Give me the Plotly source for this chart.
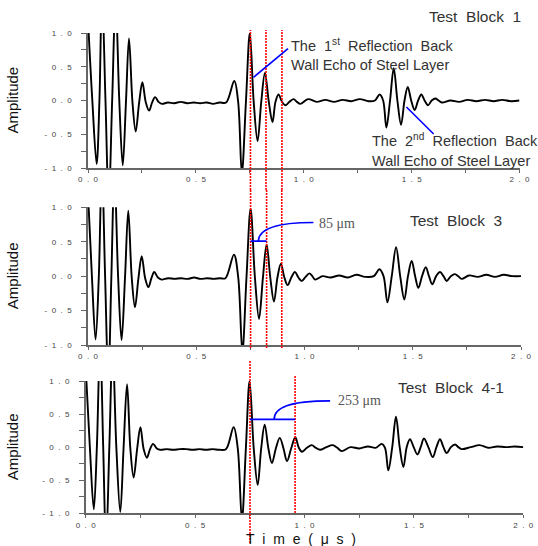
import plotly.graph_objects as go

# ---------------- data ----------------
# Test Block 1 (time in microseconds, normalised amplitude): extrema and baseline crossings
tb1_t = [0.000, 0.020, 0.040, 0.053, 0.065, 0.081, 0.096, 0.112, 0.128, 0.145, 0.161, 0.176,
         0.190, 0.206, 0.221, 0.237, 0.252, 0.268, 0.283, 0.297, 0.311, 0.327, 0.342,
         0.37, 0.40, 0.43, 0.46, 0.49, 0.52, 0.55, 0.58, 0.61, 0.640,
         0.678, 0.696, 0.713, 0.732, 0.750, 0.768, 0.786, 0.803, 0.820, 0.838, 0.855, 0.869,
         0.883, 0.898, 0.914, 0.934, 0.953, 0.968, 0.984,
         1.02, 1.06, 1.10, 1.14, 1.18, 1.22, 1.26, 1.30, 1.330,
         1.352, 1.368, 1.383, 1.400, 1.417, 1.434, 1.451, 1.467, 1.482, 1.498, 1.514, 1.530,
         1.545, 1.560, 1.576, 1.593, 1.610, 1.625, 1.640,
         1.68, 1.72, 1.76, 1.80, 1.84, 1.88, 1.92, 1.96, 2.00]
tb1_amp = [1.20, 0.00, -0.94, 0.00, 1.60, 0.00, -1.50, 0.00, 1.50, 0.00, -0.96, -0.02,
           0.92, -0.02, -0.46, -0.03, 0.27, -0.03, -0.15, -0.03, 0.05, -0.02, -0.05,
           -0.03, -0.04, -0.02, -0.04, -0.03, -0.04, -0.03, -0.05, -0.03, -0.03,
           0.29, -0.02, -1.08, -0.02, 1.00, -0.02, -0.60, -0.02, 0.41, -0.02, -0.32, -0.02,
           0.09, -0.01, -0.07, -0.02, 0.02, -0.02, -0.05,
           0.02, -0.02, 0.01, -0.02, 0.01, -0.01, 0.02, -0.01, 0.00,
           0.09, 0.00, -0.40, 0.00, 0.48, 0.00, -0.36, 0.00, 0.20, 0.00, -0.14, 0.00,
           0.09, 0.00, -0.07, 0.00, 0.03, 0.00, -0.03,
           0.00, -0.02, 0.01, -0.01, 0.01, -0.01, 0.01, -0.01, 0.00]

# Test Block 3
tb3_t = [0.000, 0.018, 0.035, 0.050, 0.064, 0.079, 0.094, 0.108, 0.122, 0.139, 0.155, 0.171,
         0.186, 0.202, 0.217, 0.233, 0.248, 0.264, 0.279, 0.293, 0.306, 0.323, 0.340,
         0.37, 0.40, 0.43, 0.46, 0.49, 0.52, 0.55, 0.58, 0.61, 0.635,
         0.674, 0.694, 0.713, 0.732, 0.751, 0.771, 0.790, 0.808, 0.825, 0.842, 0.859, 0.875,
         0.891, 0.907, 0.922, 0.939, 0.956, 0.972, 0.987, 1.005, 1.022, 1.036, 1.049,
         1.084, 1.12, 1.16, 1.20, 1.24, 1.28, 1.32,
         1.346, 1.365, 1.383, 1.403, 1.423, 1.442, 1.461, 1.478, 1.495, 1.511, 1.526, 1.543,
         1.560, 1.575, 1.590, 1.608, 1.626, 1.642, 1.657, 1.676, 1.695, 1.710, 1.726,
         1.76, 1.80, 1.84, 1.88, 1.92, 1.96, 2.00]
tb3_amp = [1.20, 0.00, -0.92, 0.00, 1.60, 0.00, -1.50, 0.00, 1.50, 0.00, -0.93, -0.02,
           0.95, -0.02, -0.45, -0.03, 0.29, -0.03, -0.16, -0.03, 0.06, -0.02, -0.05,
           -0.03, -0.04, -0.03, -0.04, -0.02, -0.04, -0.03, -0.04, -0.03, -0.03,
           0.31, -0.02, -1.10, -0.02, 0.98, -0.02, -0.62, -0.02, 0.46, -0.02, -0.37, -0.02,
           0.18, -0.02, -0.13, -0.02, 0.06, -0.02, -0.07, -0.01, 0.04, 0.00, -0.05,
           0.00, -0.02, 0.01, -0.02, 0.02, -0.01, 0.00,
           0.10, 0.00, -0.38, 0.00, 0.42, 0.00, -0.34, 0.00, 0.22, 0.00, -0.17, 0.00,
           0.13, 0.00, -0.12, 0.00, 0.06, 0.00, -0.07, 0.00, 0.03, 0.00, -0.04,
           0.01, -0.01, 0.02, -0.01, 0.02, 0.00, 0.00]

# Test Block 4-1
tb41_t = [0.000, 0.019, 0.037, 0.051, 0.066, 0.080, 0.093, 0.108, 0.123, 0.140, 0.158, 0.173,
          0.189, 0.204, 0.219, 0.235, 0.250, 0.265, 0.280, 0.294, 0.308, 0.325, 0.341,
          0.37, 0.40, 0.43, 0.46, 0.49, 0.52, 0.55, 0.58, 0.61, 0.641,
          0.676, 0.695, 0.714, 0.732, 0.749, 0.768, 0.786, 0.802, 0.818, 0.835, 0.851, 0.869,
          0.887, 0.904, 0.920, 0.939, 0.958, 0.974, 0.989, 1.011, 1.033, 1.052, 1.071,
          1.100, 1.129, 1.150, 1.170, 1.21, 1.25, 1.29, 1.325,
          1.353, 1.368, 1.383, 1.401, 1.418, 1.435, 1.452, 1.467, 1.482, 1.499, 1.516, 1.531,
          1.546, 1.566, 1.586, 1.603, 1.619, 1.635, 1.650, 1.669, 1.688, 1.703, 1.718,
          1.76, 1.80, 1.84, 1.88, 1.92, 1.96, 2.00]
tb41_amp = [1.20, 0.00, -0.94, 0.00, 1.60, 0.00, -1.50, 0.00, 1.50, 0.00, -0.98, -0.02,
            0.95, -0.02, -0.46, -0.03, 0.30, -0.03, -0.16, -0.03, 0.05, -0.02, -0.04,
            -0.03, -0.04, -0.03, -0.03, -0.04, -0.03, -0.04, -0.03, -0.04, -0.03,
            0.30, -0.02, -1.10, -0.02, 1.00, -0.02, -0.57, -0.02, 0.34, -0.02, -0.24, -0.02,
            0.14, -0.02, -0.21, -0.02, 0.15, -0.01, -0.07, -0.01, 0.03, -0.01, -0.04,
            0.00, 0.03, -0.01, -0.06, 0.00, -0.02, 0.01, -0.01,
            0.05, -0.01, -0.35, 0.00, 0.46, 0.00, -0.30, 0.00, 0.12, 0.00, -0.11, 0.00,
            0.13, 0.00, -0.15, 0.00, 0.12, 0.00, -0.09, 0.00, 0.04, 0.00, -0.03,
            0.00, 0.03, -0.01, 0.01, 0.00, 0.01, 0.00]

# red marker lines (time, µs)
tb1_lines = [0.753, 0.825, 0.899]
tb3_lines = [0.751, 0.825, 0.895]
tb41_lines = [0.751, 0.957]

NB = "\u00a0"
panel_titles = ["Test" + NB * 2 + "Block" + NB * 2 + "1",
                "Test" + NB * 2 + "Block" + NB * 2 + "3",
                "Test" + NB * 2 + "Block" + NB * 2 + "4-1"]
x_tickvals = [0, 0.5, 1.0, 1.5, 2.0]
x_ticktext = ["0 . 0", "0 . 5", "1 . 0", "1 . 5", "2 . 0"]
y_tickvals = [-1.0, -0.5, 0.0, 0.5, 1.0]
y_ticktext = ["- 1 . 0", "- 0 . 5", "0 . 0", "0 . 5", "1 . 0"]

def spaced(s):
    return s.replace(" ", NB * 2)

# ---------------- layout geometry (pixels) ----------------
W, H = 538, 546
def px(x):
    return x / W
def py(y):
    return 1 - y / H

panels = [
    # x_left, x_right, y_top, y_bottom
    (88, 519.5, 33, 168),
    (88, 521, 207.3, 345),
    (85.7, 523.3, 381, 513.3),
]

fig = go.Figure()
series = [(tb1_t, tb1_amp), (tb3_t, tb3_amp), (tb41_t, tb41_amp)]
for i, (t, a) in enumerate(series):
    sfx = "" if i == 0 else str(i + 1)
    fig.add_trace(go.Scatter(x=t, y=a, mode="lines",
                             line=dict(color="black", width=1.9, shape="spline", smoothing=1.0),
                             xaxis="x" + sfx, yaxis="y" + sfx, showlegend=False,
                             hoverinfo="skip"))

tickfont = dict(family="Liberation Sans, Arial, sans-serif", size=8, color="#444")
axcolor = "#666"
for i, (xl, xr, yt, yb) in enumerate(panels):
    sfx = "" if i == 0 else str(i + 1)
    fig.layout["xaxis" + sfx] = dict(
        domain=[px(xl), px(xr)], anchor="y" + sfx, range=[0, 2],
        tickmode="array", tickvals=x_tickvals, ticktext=[spaced(s) for s in x_ticktext],
        ticks="outside", ticklen=3, tickcolor=axcolor, tickwidth=1,
        minor=dict(dtick=0.25, tick0=0, ticks="outside", ticklen=3, tickcolor=axcolor),
        showline=True, linecolor=axcolor, linewidth=1.5,
        showgrid=False, zeroline=False, tickfont=tickfont, ticklabelstandoff=0,
        automargin=False)
    fig.layout["yaxis" + sfx] = dict(
        domain=[py(yb), py(yt)], anchor="x" + sfx, range=[-1, 1],
        tickmode="array", tickvals=y_tickvals, ticktext=[spaced(s) for s in y_ticktext],
        ticks="outside", ticklen=5, tickcolor=axcolor, tickwidth=1,
        minor=dict(dtick=0.25, tick0=0, ticks="outside", ticklen=5, tickcolor=axcolor),
        showline=True, linecolor=axcolor, linewidth=1.5,
        showgrid=False, zeroline=False, tickfont=tickfont, ticklabelstandoff=8,
        automargin=False)

shapes = []
red = dict(color="red", width=1.6, dash="2px,1px")
for xv in tb1_lines:
    shapes.append(dict(type="line", xref="x", yref="paper", x0=xv, x1=xv,
                       y0=py(190), y1=py(30), line=red))
for xv in tb3_lines:
    shapes.append(dict(type="line", xref="x2", yref="paper", x0=xv, x1=xv,
                       y0=py(348), y1=py(190), line=red))
shapes.append(dict(type="line", xref="x3", yref="paper", x0=tb41_lines[0], x1=tb41_lines[0],
                   y0=py(543), y1=py(360), line=red))
shapes.append(dict(type="line", xref="x3", yref="paper", x0=tb41_lines[1], x1=tb41_lines[1],
                   y0=py(513), y1=py(375), line=red))

blue = dict(color="#0000ff", width=1.6)
shapes.append(dict(type="line", xref="x", yref="y", x0=0.767, y0=0.344, x1=0.927, y1=0.767, line=blue))
shapes.append(dict(type="line", xref="x", yref="y", x0=1.476, y0=-0.096, x1=1.602, y1=-0.496, line=blue))
shapes.append(dict(type="line", xref="x2", yref="y2", x0=tb3_lines[0], x1=tb3_lines[1],
                   y0=0.508, y1=0.508, line=blue))
shapes.append(dict(type="path", xref="x2", yref="y2",
                   path="M 0.787,0.508 C 0.787,0.68 0.856,0.78 1.041,0.78", line=blue))
shapes.append(dict(type="line", xref="x3", yref="y3", x0=tb41_lines[0], x1=tb41_lines[1],
                   y0=0.42, y1=0.42, line=blue))
shapes.append(dict(type="path", xref="x3", yref="y3",
                   path="M 0.861,0.42 C 0.861,0.60 0.93,0.70 1.117,0.70", line=blue))

sans = "Liberation Sans, Arial, sans-serif"
serif = "Liberation Serif, Times New Roman, serif"
txt = "#333"
ann = []
def add_text(text, x, y, size, xanchor="left", family=sans, color=txt, angle=0):
    ann.append(dict(text=text, x=px(x), y=py(y), xref="paper", yref="paper",
                    xanchor=xanchor, yanchor="middle", showarrow=False, textangle=angle,
                    borderpad=0,
                    font=dict(family=family, size=size, color=color)))

add_text(panel_titles[0], 475, 16, 15.5, xanchor="center")
add_text(panel_titles[1], 456, 220, 15.5, xanchor="center")
add_text(panel_titles[2], 450.5, 387, 15.5, xanchor="center")
add_text("The" + NB * 2 + "1<sup>st</sup>" + NB * 2 + "Reflection" + NB * 2 + "Back", 290, 45, 14.5)
add_text("Wall Echo of Steel Layer", 290, 65, 14.5)
add_text("The" + NB * 2 + "2<sup>nd</sup>" + NB * 2 + "Reflection" + NB * 2 + "Back", 371, 140, 14.5)
add_text("Wall Echo of Steel Layer", 371, 161, 14.5)
add_text("85 μm", 318, 223, 14, family=serif, color="#555")
add_text("253 μm", 337, 400, 14, family=serif, color="#555")
for (xl, xr, yt, yb) in panels:
    add_text("Amplitude", 12, (yt + yb) / 2, 15, xanchor="center", color="#111", angle=-90)
add_text(spaced("T i m e ( μ s )"), 301, 538.5, 14, xanchor="center", color="#111")

fig.update_layout(width=W, height=H, margin=dict(l=0, r=0, t=0, b=0, autoexpand=False),
                  autosize=False,
                  paper_bgcolor="white", plot_bgcolor="white",
                  shapes=shapes, annotations=ann, showlegend=False)

fig.write_html("out.html", config={"displayModeBar": False},
               post_script="document.body.style.margin='0';document.body.style.padding='0';"
                           "document.documentElement.style.overflow='hidden';")
